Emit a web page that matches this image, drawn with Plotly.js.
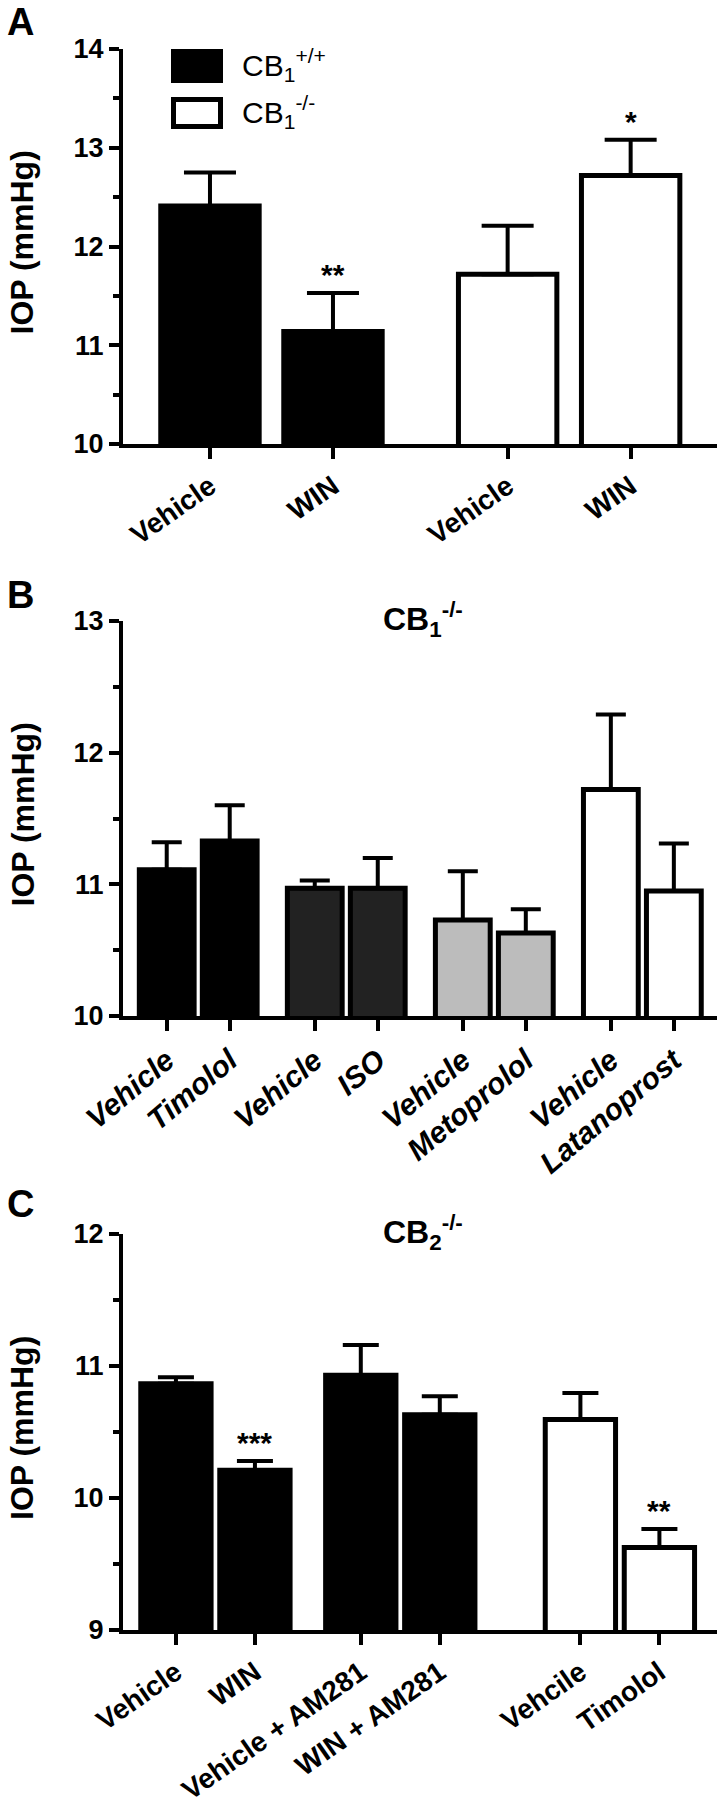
<!DOCTYPE html>
<html><head><meta charset="utf-8">
<script src="https://cdn.plot.ly/plotly-3.0.1.min.js"></script>
<style>html,body{margin:0;padding:0;background:#fff}#chart{width:720px;height:1800px}</style>
</head><body><div id="chart"></div>
<script>
// ---------- DATA ----------
// Panel A
const aLabels = ['Vehicle', 'WIN', 'Vehicle', 'WIN'];
const aGroups = [0, 0, 1, 1];
const aMeans  = [12.41, 11.14, 11.72, 12.72];
const aErrors = [0.34, 0.39, 0.49, 0.36];
const aStars  = ['', '**', '', '*'];
const aSeriesNames = ['CB<sub>1</sub><sup>+/+</sup>', 'CB<sub>1</sub><sup>-/-</sup>'];

// Panel B (CB1-/-)
const bLabels = ['Vehicle', 'Timolol', 'Vehicle', 'ISO', 'Vehicle', 'Metoprolol', 'Vehicle', 'Latanoprost'];
const bGroups = [0, 0, 1, 1, 2, 2, 3, 3];
const bMeans  = [11.11, 11.33, 10.97, 10.97, 10.73, 10.63, 11.72, 10.95];
const bErrors = [0.21, 0.27, 0.06, 0.23, 0.37, 0.18, 0.57, 0.36];
const bStars  = ['', '', '', '', '', '', '', ''];
const bTitle  = 'CB<sub>1</sub><sup>-/-</sup>';

// Panel C (CB2-/-)
const cLabels = ['Vehicle', 'WIN', 'Vehicle + AM281', 'WIN + AM281', 'Vehcile', 'Timolol'];
const cGroups = [0, 0, 1, 1, 2, 2];
const cMeans  = [10.865, 10.21, 10.93, 10.63, 10.595, 9.625];
const cErrors = [0.05, 0.07, 0.23, 0.14, 0.20, 0.14];
const cStars  = ['', '***', '', '', '', '**'];
const cTitle  = 'CB<sub>2</sub><sup>-/-</sup>';

const yTitle = 'IOP (mmHg)';

// ---------- STYLE / LAYOUT ----------
const W = 720, H = 1800;
const px = v => v / W;
const py = v => 1 - v / H;
const FONT = 'Liberation Sans, Arial, Helvetica, sans-serif';

const panels = [
  { n: '', letter: 'A', labels: aLabels, groups: aGroups, means: aMeans, errs: aErrors, stars: aStars,
    groupOffset: [0, 0.42], groupFill: ['#000000', '#ffffff'], groupName: aSeriesNames,
    range: [-0.707, 4.122], top: 49, bottom: 444, yr: [10, 14], barW: 0.8, cap: 26,
    italic: false, angle: -35, lblSize: 28, letterY: 22, title: null },
  { n: '2', letter: 'B', labels: bLabels, groups: bGroups, means: bMeans, errs: bErrors, stars: bStars,
    groupOffset: [0, 0.35, 0.70, 1.05], groupFill: ['#000000', '#222222', '#bcbcbc', '#ffffff'], groupName: null,
    range: [-0.694, 8.735], top: 621, bottom: 1016, yr: [10, 13], barW: 0.87, cap: 15,
    italic: true, angle: -40, lblSize: 30, letterY: 595, title: bTitle },
  { n: '3', letter: 'C', labels: cLabels, groups: cGroups, means: cMeans, errs: cErrors, stars: cStars,
    groupOffset: [0, 0.34, 1.12], groupFill: ['#000000', '#000000', '#ffffff'], groupName: null,
    range: [-0.670, 6.849], top: 1234, bottom: 1630, yr: [9, 12], barW: 0.89, cap: 18,
    italic: false, angle: -35, lblSize: 28, letterY: 1204, title: cTitle }
];

const traces = [];
const annotations = [];
const shapes = [];
const layout = {
  width: W, height: H,
  margin: { l: 0, r: 0, t: 0, b: 0 },
  paper_bgcolor: '#ffffff', plot_bgcolor: '#ffffff',
  showlegend: false, barmode: 'overlay',
  font: { family: FONT, color: '#000000' }
};

panels.forEach(p => {
  const xs = p.labels.map((_, i) => i + p.groupOffset[p.groups[i]]);
  const xa = 'x' + p.n, ya = 'y' + p.n;
  const groupIds = [...new Set(p.groups)];
  groupIds.forEach(g => {
    const idx = p.groups.map((gg, i) => gg === g ? i : -1).filter(i => i >= 0);
    traces.push({
      type: 'bar',
      name: p.groupName ? p.groupName[g] : p.labels[idx[0]],
      x: idx.map(i => xs[i]),
      y: idx.map(i => p.means[i]),
      width: p.barW,
      xaxis: xa, yaxis: ya,
      marker: { color: p.groupFill[g], line: { color: '#000000', width: 5 } },
      error_y: { type: 'data', symmetric: false, array: idx.map(i => p.errs[i]),
                 arrayminus: idx.map(() => 0), color: '#000000', thickness: 4, width: p.cap },
      hoverinfo: 'x+y'
    });
  });
  p.stars.forEach((s, i) => {
    if (!s) return;
    annotations.push({ xref: xa, yref: ya, x: xs[i], y: p.means[i] + p.errs[i], text: s,
      showarrow: false, xanchor: 'center', yanchor: 'bottom',
      font: { family: FONT, size: 30, weight: 'bold', color: '#000' } });
  });
  const ticks = [];
  for (let v = p.yr[0]; v <= p.yr[1]; v++) ticks.push(v);
  layout['xaxis' + p.n] = {
    domain: [px(123), px(717)], range: p.range, anchor: ya,
    tickmode: 'array', tickvals: xs, ticktext: p.labels, tickangle: p.angle,
    ticks: 'outside', ticklen: 11, tickwidth: 4, tickcolor: '#000',
    showline: true, linewidth: 4, linecolor: '#000', showgrid: false, zeroline: false,
    tickfont: { family: FONT, size: p.lblSize, weight: 'bold', style: p.italic ? 'italic' : 'normal', color: '#000' },
    fixedrange: true
  };
  layout['yaxis' + p.n] = {
    domain: [py(p.bottom), py(p.top)], range: p.yr, anchor: xa,
    tickmode: 'array', tickvals: ticks,
    ticks: 'outside', ticklen: 10, tickwidth: 4, tickcolor: '#000',
    minor: { tickmode: 'linear', tick0: p.yr[0], dtick: 0.5, ticks: 'outside', ticklen: 6, tickwidth: 4, tickcolor: '#000' },
    showline: true, linewidth: 4, linecolor: '#000', showgrid: false, zeroline: false,
    tickfont: { family: FONT, size: 27, weight: 'bold', color: '#000' },
    fixedrange: true
  };
  annotations.push({ xref: 'paper', yref: 'paper', x: px(22), y: py((p.top + p.bottom) / 2 - 4),
    text: yTitle, textangle: -90, showarrow: false, xanchor: 'center', yanchor: 'middle',
    font: { family: FONT, size: 32, weight: 'bold', color: '#000' } });
  annotations.push({ xref: 'paper', yref: 'paper', x: px(5), y: py(p.letterY),
    text: p.letter, showarrow: false, xanchor: 'left', yanchor: 'middle',
    font: { family: FONT, size: 38, weight: 'bold', color: '#000' } });
  if (p.title) {
    annotations.push({ xref: 'paper', yref: 'paper', x: px(381), y: py(p.top - 2),
      text: p.title, showarrow: false, xanchor: 'left', yanchor: 'middle',
      font: { family: FONT, size: 32, weight: 'bold', color: '#000' } });
  }
});

// legend for panel A (swatches + labels)
const legendRows = [ { top: 49, bottom: 83 }, { top: 97, bottom: 129 } ];
legendRows.forEach((r, g) => {
  shapes.push({ type: 'rect', xref: 'paper', yref: 'paper',
    x0: px(173.5), x1: px(220.5), y0: py(r.bottom - 2.5), y1: py(r.top + 2.5),
    fillcolor: panels[0].groupFill[g], line: { color: '#000', width: 5 } });
  annotations.push({ xref: 'paper', yref: 'paper', x: px(240), y: py((r.top + r.bottom) / 2 - 1),
    text: aSeriesNames[g], showarrow: false, xanchor: 'left', yanchor: 'middle',
    font: { family: FONT, size: 30, color: '#000' } });
});

layout.annotations = annotations;
layout.shapes = shapes;

Plotly.newPlot('chart', traces, layout, { staticPlot: true, displayModeBar: false });
</script>
</body></html>
